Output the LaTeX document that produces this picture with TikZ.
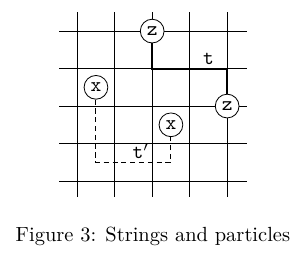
\documentclass[tikz,border=0pt]{standalone}
\usepackage{amsmath}
\usepackage{tikz}

\begin{document}
\begin{tikzpicture}[
    x=18.3pt, y=18.3pt,
    site/.style={draw, circle, fill=white, inner sep=0pt,
      minimum size=11.6pt, font=\ttfamily},
    lab/.style={inner sep=1.5pt, font=\ttfamily},
    string/.style={line width=0.9pt},
    dual/.style={line width=0.45pt, dash pattern=on 2.5pt off 1.8pt},
  ]
  \useasboundingbox (-2.06,-2.27) rectangle (6.13,4.83);

  %% ---- lattice -------------------------------------------------------
  \foreach \k in {0,...,4} {
    \draw (-0.48,\k) -- (4.52,\k);
    \draw (\k,-0.42) -- (\k,4.5);
  }

  %% ---- string t between the z's -------------------------------------
  \coordinate (c1) at (2,3);
  \coordinate (c2) at (4,3);
  \draw[string] (2,4) -- (c1) -- (c2) -- (4,2);
  \node[site] (z1) at (2,4) {z};
  \node[site] (z2) at (4,2) {z};
  \node[lab, above] (t) at (3.5,3) {t};

  %% ---- dual string t' between the x's -------------------------------
  \node[site] (x1) at (0.5,2.5) {x};
  \node[site] (x2) at (2.5,1.5) {x};
  \coordinate (d1) at (0.5,0.5);
  \coordinate (d2) at (2.5,0.5);
  \draw[dual] (x1) -- (d1) -- (d2) -- (x2);
  \node[lab, above] (tp) at (1.7,0.5) {t$'$};

  \node[font=\normalsize] (caption) at (2.02,-1.49) {Figure 3: Strings and particles};
\end{tikzpicture}
\end{document}
